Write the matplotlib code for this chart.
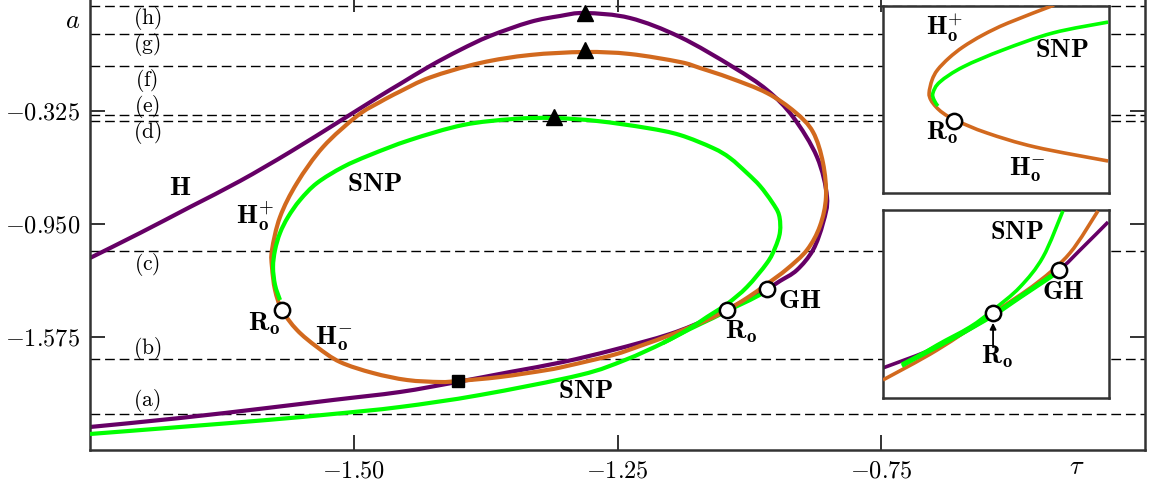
import matplotlib
matplotlib.use("Agg")
import matplotlib.pyplot as plt
from matplotlib.path import Path
from matplotlib.patches import PathPatch
import numpy as np

plt.rcParams['mathtext.fontset'] = 'cm'
plt.rcParams['font.family'] = ['DejaVu Serif']

# ---------------- data (main panel: tau, a) ----------------
H_tau = [-1.75, -1.7026, -1.6552, -1.6078, -1.5604, -1.5130, -1.4751, -1.4562, -1.4277,
         -1.3993, -1.3709, -1.3329, -1.3045, -1.2808, -1.2382, -1.1908, -1.1405, -1.1083,
         -1.0836, -1.0609, -1.0514, -1.0552, -1.0647, -1.0799, -1.0960, -1.1083, -1.1339,
         -1.1623, -1.2002, -1.2543, -1.3017, -1.3519, -1.4021, -1.4562, -1.5197, -1.5822,
         -1.6647, -1.75]
H_a = [-1.1395, -1.0014, -0.8578, -0.7141, -0.5540, -0.3827, -0.2446, -0.1783, -0.0789,
       0.0095, 0.0868, 0.1641, 0.1973, 0.2138, 0.1862, 0.0813, -0.0844, -0.2115,
       -0.3606, -0.5815, -0.8025, -0.9461, -1.0953, -1.2058, -1.2665, -1.3107, -1.3881,
       -1.4710, -1.5593, -1.6477, -1.7139, -1.7692, -1.8244, -1.8796, -1.9238, -1.9680,
       -2.0233, -2.0729]

Ho_tau = [-1.4012, -1.3614, -1.3168, -1.2979, -1.2543, -1.2287, -1.1974, -1.1652, -1.1462,
          -1.1273, -1.1083, -1.0893, -1.0704, -1.0581, -1.0524, -1.0552, -1.0647, -1.0818,
          -1.1083, -1.1434, -1.1718, -1.1908, -1.2382, -1.2808, -1.3329, -1.3803, -1.4277,
          -1.4562, -1.4751, -1.4969, -1.5291, -1.5538, -1.5699, -1.5775, -1.5775, -1.5746,
          -1.5680, -1.5538, -1.5348, -1.5130, -1.4818, -1.4495, -1.4182, -1.4012]
Ho_a = [-1.8189, -1.7968, -1.7581, -1.7360, -1.6753, -1.6255, -1.5593, -1.4820, -1.4267,
        -1.3604, -1.2831, -1.2002, -1.0953, -0.9627, -0.8025, -0.6147, -0.4435, -0.3330,
        -0.2281, -0.1452, -0.0900, -0.0568, -0.0126, -0.0016, -0.0182, -0.0624, -0.1424,
        -0.2198, -0.2778, -0.3551, -0.5263, -0.7252, -0.9130, -1.0953, -1.1892, -1.3163,
        -1.4267, -1.5372, -1.6311, -1.7139, -1.7747, -1.8134, -1.8244, -1.8189]

SNP_tau = [-1.75, -1.6647, -1.5822, -1.5197, -1.4562, -1.3803, -1.2855, -1.2429, -1.2069,
           -1.1841, -1.1652, -1.1462, -1.1273, -1.1083, -1.1007, -1.0960, -1.0969, -1.1036,
           -1.1149, -1.1273, -1.1434, -1.1595, -1.1908, -1.2220, -1.2694, -1.3111, -1.3491,
           -1.3964, -1.4467, -1.4846, -1.5102, -1.5348, -1.5509, -1.5623, -1.5699, -1.5746,
           -1.5765, -1.5746, -1.5699]
SNP_a = [-2.1116, -2.0729, -2.0343, -2.0012, -1.9625, -1.8962, -1.7857, -1.7029, -1.6090,
         -1.5372, -1.4654, -1.3935, -1.2997, -1.1671, -1.0842, -0.9959, -0.9020, -0.8301,
         -0.7418, -0.6700, -0.5871, -0.5319, -0.4600, -0.4214, -0.3827, -0.3662, -0.3717,
         -0.4049, -0.4877, -0.5705, -0.6368, -0.7252, -0.8191, -0.9130, -1.0014, -1.0953,
         -1.1892, -1.2886, -1.3715]

SNP2_tau = [-1.2069, -1.1813, -1.1595, -1.1405, -1.1244, -1.1102]
SNP2_a = [-1.6090, -1.5316, -1.4710, -1.4156, -1.3715, -1.3273]

tri_tau = [-1.2808, -1.2808, -1.3102]
tri_a = [0.2138, 0.0095, -0.3606]
sq_tau = [-1.4012]
sq_a = [-1.8189]
circ_tau = [-1.5680, -1.1462, -1.1083]
circ_a = [-1.4267, -1.4267, -1.3107]

levels = [-2.00, -1.70, -1.10, -0.38, -0.35, -0.08, 0.10, 0.25]
level_names = ['(a)', '(b)', '(c)', '(d)', '(e)', '(f)', '(g)', '(h)']

xtick_vals = [-1.5, -1.25, -1.0]
xtick_labels = ['-1.50', '-1.25', '-0.75']
ytick_vals = [-0.325, -0.95, -1.575]
ytick_labels = ['-0.325', '-0.950', '-1.575']

# ---------------- data (insets, local units) ----------------
i1_Ho_x = [0.757, 0.553, 0.442, 0.354, 0.292, 0.241, 0.217, 0.204, 0.212, 0.235, 0.265,
           0.319, 0.460, 0.673, 0.996]
i1_Ho_y = [1.005, 0.909, 0.845, 0.781, 0.722, 0.658, 0.604, 0.535, 0.497, 0.460, 0.428,
           0.390, 0.321, 0.246, 0.171]
i1_SNP_x = [0.996, 0.752, 0.531, 0.354, 0.252, 0.221, 0.226, 0.243]
i1_SNP_y = [0.914, 0.856, 0.765, 0.674, 0.594, 0.535, 0.497, 0.465]
i1_Ro = (0.314, 0.385)

i2_H_x = [0.0, 0.239, 0.429, 0.606, 0.779, 0.872, 0.996]
i2_H_y = [0.160, 0.271, 0.399, 0.537, 0.681, 0.787, 0.936]
i2_Ho_x = [0.0, 0.239, 0.487, 0.681, 0.827, 0.951]
i2_Ho_y = [0.096, 0.255, 0.452, 0.612, 0.771, 0.995]
i2_SNPa_x = [0.084, 0.310, 0.487, 0.606, 0.752]
i2_SNPa_y = [0.176, 0.319, 0.441, 0.537, 0.654]
i2_SNPb_x = [0.084, 0.239, 0.385, 0.487, 0.606, 0.708, 0.796]
i2_SNPb_y = [0.170, 0.282, 0.378, 0.468, 0.590, 0.750, 0.995]
i2_GH = (0.779, 0.681)
i2_Ro = (0.487, 0.452)

# ---------------- styles ----------------
PURPLE = '#660066'
ORANGE = '#D2691E'
GREEN = '#00FF00'
SPINE = '#333333'
LW = 3.0
LWI = 2.6


def smooth_curve(axis, xs, ys, closed=False, **kw):
    """Draw a smooth curve through the given points (cubic Bezier segments)."""
    p = np.column_stack([xs, ys]).astype(float)
    n = len(p)
    verts = [p[0]]
    codes = [Path.MOVETO]
    for i in range(n - 1):
        if closed:
            p0 = p[i - 1] if i > 0 else p[n - 2]
            p3 = p[i + 2] if i + 2 < n else p[1]
        else:
            p0 = p[i - 1] if i > 0 else p[i]
            p3 = p[i + 2] if i + 2 < n else p[i + 1]
        p1, p2 = p[i], p[i + 1]
        c1 = p1 + (p2 - p0) / 6.0
        c2 = p2 - (p3 - p1) / 6.0
        verts += [c1, c2, p2]
        codes += [Path.CURVE4] * 3
    patch = PathPatch(Path(verts, codes), fill=False, **kw)
    patch.set_capstyle('butt')
    patch.set_joinstyle('round')
    axis.add_patch(patch)
    return patch


W, Hpx = 1151, 482
fig = plt.figure(figsize=(W / 100, Hpx / 100), dpi=100)
ax = fig.add_axes([90 / W, 1 - 450 / Hpx, 1055 / W, 452.6 / Hpx])
ax.set_xlim(-1.75, -0.75)
ax.set_ylim(-2.2, 0.3)

for lv in levels:
    ax.axhline(lv, color='black', lw=1.0, ls=(0, (7, 3.5)), zorder=1)
for lv_name, yy in zip(level_names, [-1.9293, -1.6421, -1.1781, -0.4435, -0.2999, -0.1563, 0.0371, 0.1862]):
    ax.text(-1.6960, yy, r'$\mathrm{%s}$' % lv_name, fontsize=15.5, ha='center', va='center', zorder=7)

smooth_curve(ax, H_tau, H_a, edgecolor=PURPLE, lw=LW, zorder=2)
smooth_curve(ax, Ho_tau, Ho_a, closed=True, edgecolor=ORANGE, lw=LW, zorder=3)
smooth_curve(ax, SNP_tau, SNP_a, edgecolor=GREEN, lw=LW, zorder=4)
smooth_curve(ax, SNP2_tau, SNP2_a, edgecolor=GREEN, lw=LW, zorder=2.5)

ax.plot(tri_tau, tri_a, ls='none', marker='^', ms=11, color='black', zorder=6)
ax.plot(sq_tau, sq_a, ls='none', marker='s', ms=8, color='black', zorder=6)
ax.plot(circ_tau, circ_a, ls='none', marker='o', ms=11, mfc='white', mec='black', mew=1.8, zorder=6)

lbl = dict(fontsize=19.5, ha='center', va='center', zorder=7)
ax.text(-1.6647, -0.7473, r'$\mathbf{H}$', **lbl)
ax.text(-1.4799, -0.7252, r'$\mathbf{SNP}$', **lbl)
ax.text(-1.5936, -0.9130, r'$\mathbf{H}_{\mathbf{o}}^{+}$', **lbl)
ax.text(-1.5851, -1.4985, r'$\mathbf{R}_{\mathbf{o}}$', **lbl)
ax.text(-1.5187, -1.5869, r'$\mathbf{H}_{\mathbf{o}}^{-}$', **lbl)
ax.text(-1.2799, -1.8686, r'$\mathbf{SNP}$', **lbl)
ax.text(-1.1329, -1.5482, r'$\mathbf{R}_{\mathbf{o}}$', **lbl)
ax.text(-1.0770, -1.3715, r'$\mathbf{GH}$', **lbl)

ax.set_xticks(xtick_vals)
ax.set_xticklabels(['$%s$' % t for t in xtick_labels])
ax.set_yticks(ytick_vals)
ax.set_yticklabels(['$%s$' % t for t in ytick_labels])
ax.tick_params(direction='in', length=11, width=1.4, color=SPINE, top=True, right=True,
               labelsize=17.5, pad=7)
for s in ax.spines.values():
    s.set_color(SPINE)
    s.set_linewidth(1.8)

fig.text(73 / W, 1 - 20 / Hpx, r'$a$', fontsize=19, ha='center', va='center')
fig.text(1077 / W, 1 - 466 / Hpx, r'$\tau$', fontsize=19, ha='center', va='center')

# ---------------- inset 1 ----------------
a1 = fig.add_axes([883 / W, 1 - 193 / Hpx, 226 / W, 187 / Hpx])
a1.set_xlim(0, 1); a1.set_ylim(0, 1)
a1.set_xticks([]); a1.set_yticks([])
smooth_curve(a1, i1_Ho_x, i1_Ho_y, edgecolor=ORANGE, lw=LWI, zorder=3)
smooth_curve(a1, i1_SNP_x, i1_SNP_y, edgecolor=GREEN, lw=LWI, zorder=4)
a1.plot([i1_Ro[0]], [i1_Ro[1]], ls='none', marker='o', ms=11, mfc='white', mec='black', mew=1.8, zorder=6)
lbl_i = dict(fontsize=19, ha='center', va='center', zorder=7)
a1.text(0.274, 0.882, r'$\mathbf{H}_{\mathbf{o}}^{+}$', **lbl_i)
a1.text(0.792, 0.765, r'$\mathbf{SNP}$', **lbl_i)
a1.text(0.261, 0.321, r'$\mathbf{R}_{\mathbf{o}}$', **lbl_i)
a1.text(0.637, 0.123, r'$\mathbf{H}_{\mathbf{o}}^{-}$', **lbl_i)
for s in a1.spines.values():
    s.set_color(SPINE); s.set_linewidth(1.8)

# ---------------- inset 2 ----------------
a2 = fig.add_axes([883 / W, 1 - 398 / Hpx, 226 / W, 188 / Hpx])
a2.set_xlim(0, 1); a2.set_ylim(0, 1)
a2.set_xticks([]); a2.set_yticks([])
smooth_curve(a2, i2_H_x, i2_H_y, edgecolor=PURPLE, lw=LWI, zorder=2)
smooth_curve(a2, i2_Ho_x, i2_Ho_y, edgecolor=ORANGE, lw=LWI, zorder=3)
smooth_curve(a2, i2_SNPa_x, i2_SNPa_y, edgecolor=GREEN, lw=3.6, zorder=4)
smooth_curve(a2, i2_SNPb_x, i2_SNPb_y, edgecolor=GREEN, lw=LWI, zorder=4)
a2.plot([i2_GH[0], i2_Ro[0]], [i2_GH[1], i2_Ro[1]], ls='none', marker='o', ms=11,
        mfc='white', mec='black', mew=1.8, zorder=6)
a2.annotate('', xy=(0.487, 0.40), xytext=(0.487, 0.27),
            arrowprops=dict(arrowstyle='-|>', lw=1.3, color='black', mutation_scale=9,
                            shrinkA=0, shrinkB=0), zorder=7)
a2.text(0.593, 0.883, r'$\mathbf{SNP}$', **lbl_i)
a2.text(0.796, 0.564, r'$\mathbf{GH}$', **lbl_i)
a2.text(0.504, 0.220, r'$\mathbf{R}_{\mathbf{o}}$', **lbl_i)
for s in a2.spines.values():
    s.set_color(SPINE); s.set_linewidth(1.8)

fig.savefig('out.png', dpi=100)
